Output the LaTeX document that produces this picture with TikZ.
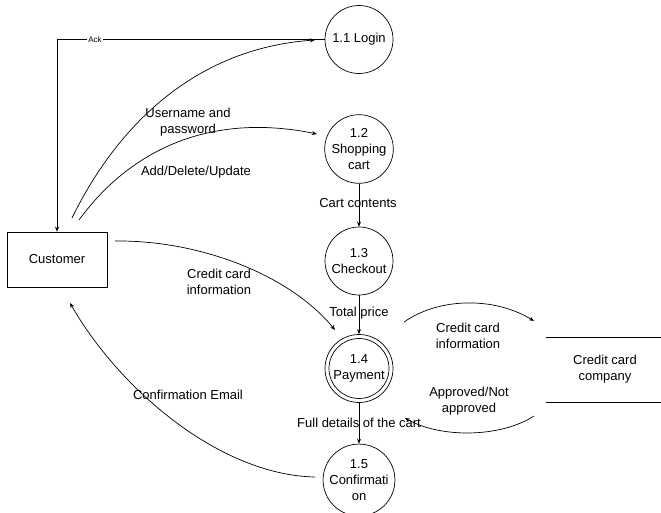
\documentclass[tikz,border=0pt]{standalone}
\usepackage{fontspec}
\setmainfont{Liberation Sans}
\usetikzlibrary{arrows.meta}
\begin{document}
\begin{tikzpicture}[x=1pt,y=-1pt,
  every node/.style={font=\fontsize{13}{16}\selectfont, inner sep=0pt, align=center},
  proc/.style={circle, draw, line width=0.7pt, minimum size=68pt},
  flow/.style={line width=0.7pt, -{Stealth[length=5pt,width=4pt]}},
  lbl/.style={}
]
\useasboundingbox (0,0) rectangle (661,512);

\node[proc] (p1) at (359,39.5) {1.1 Login};
\node[proc] (p2) at (359,149) {1.2\\Shopping\\cart};
\node[proc] (p3) at (359,261) {1.3\\Checkout};
\node[proc] (p4) at (359,368.5) {1.4\\Payment};
\draw[line width=0.7pt] (p4.center) circle[radius=30];
\node[proc] (p5) at (359,480) {1.5\\Confirmati\\on};

\node[draw, line width=0.7pt, minimum width=100pt, minimum height=55pt] (cust) at (57,259.5) {Customer};

\coordinate (ccl) at (546,337);
\coordinate (ccr) at (661,337);
\coordinate (ccl2) at (546,402);
\coordinate (ccr2) at (661,402);
\draw[line width=0.7pt] (ccl) -- (ccr);
\draw[line width=0.7pt] (ccl2) -- (ccr2);
\node (cc) at (605,369.5) {Credit card\\company};

% Ack
\draw[flow] (p1.west) -| (cust.north);
\node[fill=white, inner sep=1pt, font=\fontsize{8}{9}\selectfont] (ack) at (95,39.5) {Ack};

% Username and password
\coordinate (u0) at (72,218);
\coordinate (u1) at (315,40);
\draw[flow] (u0) .. controls (120,120) and (200,48) .. (u1);
\node (ulbl) at (188,122.5) {Username and\\password};

% Add/Delete/Update
\coordinate (a0) at (79,220);
\coordinate (a1) at (317,134);
\draw[flow] (a0) .. controls (130,150) and (210,112) .. (a1);
\node (albl) at (196,172) {Add/Delete/Update};

% vertical flows
\draw[flow] (p2.south) -- (p3.north);
\node (cclbl) at (358,203) {Cart contents};
\draw[flow] (p3.south) -- (p4.north);
\node (tplbl) at (359,313) {Total price};
\draw[flow] (p4.south) -- (p5.north);
\node (fdlbl) at (359,423) {Full details of the cart};

% credit card info from customer
\coordinate (c0) at (115,241);
\coordinate (c1) at (335,330);
\draw[flow] (c0) .. controls (200,240) and (290,275) .. (c1);
\node (clbl) at (219,282) {Credit card\\information};

% confirmation email
\coordinate (e0) at (315,477);
\coordinate (e1) at (70,303);
\draw[flow] (e0) .. controls (220,475) and (120,390) .. (e1);
\node (elbl) at (188,395) {Confirmation Email};

% to company
\coordinate (k0) at (404,322);
\coordinate (k1) at (534,321);
\draw[flow] (k0) .. controls (440,297) and (495,297) .. (k1);
\node (klbl) at (468,335.5) {Credit card\\information};

% approved
\coordinate (r0) at (534,416);
\coordinate (r1) at (405,418);
\draw[flow] (r0) .. controls (500,438) and (440,438) .. (r1);
\node (rlbl) at (469,401.5) {Approved/Not\\approved};
\end{tikzpicture}
\end{document}
